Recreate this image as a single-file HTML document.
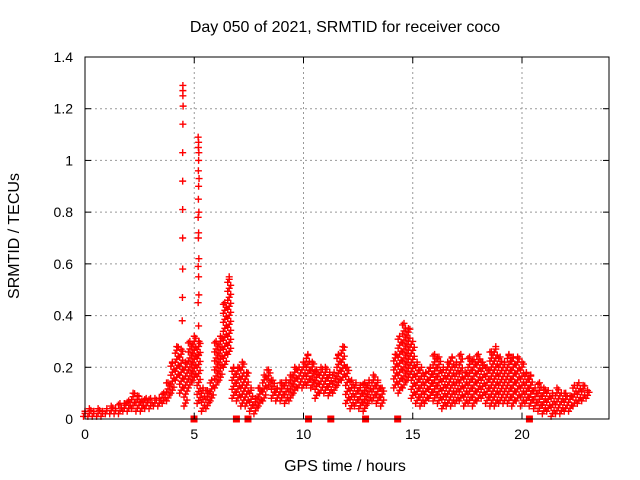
<!DOCTYPE html>
<html><head><meta charset="utf-8"><style>
body{margin:0;background:#fff;}
svg{display:block;font-family:"Liberation Sans",sans-serif;}
</style></head><body>
<svg id="chart" width="640" height="480">
</svg>
<script>
const hours=[0,0.2,0.4,0.6,0.8,1,1.2,1.4,1.6,1.8,2,2.2,2.4,2.6,2.8,3,3.2,3.4,3.6,3.8,4,4.2,4.4,4.6,4.8,5,5.2,5.4,5.6,5.8,6,6.2,6.4,6.6,6.8,7,7.2,7.4,7.6,7.8,8,8.2,8.4,8.6,8.8,9,9.2,9.4,9.6,9.8,10,10.2,10.4,10.6,10.8,11,11.2,11.4,11.6,11.8,12,12.2,12.4,12.6,12.8,13,13.2,13.4,13.6,13.8,14,14.2,14.4,14.6,14.8,15,15.2,15.4,15.6,15.8,16,16.2,16.4,16.6,16.8,17,17.2,17.4,17.6,17.8,18,18.2,18.4,18.6,18.8,19,19.2,19.4,19.6,19.8,20,20.2,20.4,20.6,20.8,21,21.2,21.4,21.6,21.8,22,22.2,22.4,22.6,22.8,23];
const lowVals=[.01,.01,.01,.01,.01,.02,.02,.02,.02,.03,.03,.04,.03,.03,.04,.04,.05,.05,.06,.07,.10,.15,.10,.05,.12,.15,.06,.03,.04,.07,.12,.15,.20,.25,.08,.07,.05,.05,.03,.02,.05,.07,.12,.08,.07,.07,.06,.07,.10,.12,.12,.13,.12,.08,.10,.10,.09,.10,.13,.15,.06,.04,.05,.04,.03,.06,.07,.06,.05,null,null,.12,.10,.12,.15,.08,.06,.05,.06,.08,.07,.06,.04,.05,.05,.06,.07,.05,.06,.05,.07,.08,.06,.05,.05,.06,.06,.06,.05,.07,.05,.06,.05,.04,.03,.02,.03,.01,.02,.02,.03,.03,.05,.06,.07,.08];
const highVals=[.03,.04,.03,.04,.03,.04,.05,.04,.06,.06,.07,.10,.09,.07,.08,.08,.08,.08,.10,.14,.22,.28,.27,.22,.30,.32,.30,.12,.11,.15,.30,.32,.45,.55,.20,.20,.22,.18,.12,.08,.12,.17,.19,.15,.12,.14,.15,.17,.20,.20,.22,.25,.22,.19,.20,.20,.18,.18,.25,.28,.20,.15,.14,.13,.14,.15,.17,.15,.12,null,null,.25,.32,.37,.35,.30,.22,.20,.18,.20,.25,.24,.20,.22,.24,.22,.25,.18,.24,.23,.25,.22,.20,.26,.28,.24,.22,.25,.24,.24,.22,.18,.17,.12,.14,.12,.11,.10,.12,.10,.10,.09,.13,.14,.13,.11];
const spikeHours=[4.48,4.48,4.48,4.49,4.48,4.47,4.47,4.47,4.47,4.47,4.46,4.45,5.18,5.2,5.19,5.21,5.2,5.19,5.22,5.2,5.19,5.21,5.18,5.2,5.19,5.21,5.18,5.2,5.21,5.18,5.2,5.22,5.18];
const spikeVals=[1.29,1.27,1.25,1.21,1.14,1.03,0.92,0.81,0.70,0.58,0.47,0.38,1.09,1.07,1.05,1.03,1.0,0.96,0.93,0.90,0.85,0.80,0.78,0.72,0.70,0.62,0.59,0.55,0.48,0.45,0.36,0.30,0.25];
const gapHours=[4.99,6.93,7.46,10.23,11.25,12.84,14.31,20.34];
const xTicks=[0,5,10,15,20];
const yTicks=[0,0.2,0.4,0.6,0.8,1,1.2,1.4];
const yTickLabels=["0","0.2","0.4","0.6","0.8","1","1.2","1.4"];

const L=85,R=609,T=57,B=419;
const X=h=>L+h*21.85;
const Y=v=>B-v*(B-T)/1.4;
const svg=document.getElementById('chart');
const NS='http://www.w3.org/2000/svg';
function mk(tag,attrs,parent){const e=document.createElementNS(NS,tag);for(const k in attrs)e.setAttribute(k,attrs[k]);(parent||svg).appendChild(e);return e;}

const grid=mk('g',{stroke:'#999','stroke-width':1,'stroke-dasharray':'2,3'});


xTicks.forEach(t=>{if(t>0)mk('line',{x1:X(t),x2:X(t),y1:T,y2:B},grid);});
yTicks.forEach(t=>{if(t>0&&t<1.4)mk('line',{x1:L,x2:R,y1:Y(t),y2:Y(t)},grid);});

const pts=mk('g',{stroke:'#f00','stroke-width':1.4,fill:'none'});


function plus(x,y){mk('path',{d:`M${x-3.5},${y}h7M${x},${y-3.5}v7`},pts);}
hours.forEach((h,i)=>{
  const lo=lowVals[i],hi=highVals[i];
  if(lo==null||hi==null)return;
  const x=X(h),y1=Y(lo),y2=Y(hi);
  let k=0;
  for(let y=y1;y>=y2;y-=3){plus(x+((k%3)-1)*1.5,y);k++;}
  plus(x,y2);
});
spikeHours.forEach((h,i)=>plus(X(h),Y(spikeVals[i])));

const gm=mk('g',{fill:'#f00'});


gapHours.forEach(h=>mk('rect',{x:X(h)-3.5,y:B-3.5,width:7,height:7},gm));

const frame=mk('rect',{x:L,y:T,width:R-L,height:B-T,fill:'none',stroke:'#000','stroke-width':1});


const ticks=mk('g',{stroke:'#000','stroke-width':1});


xTicks.forEach(t=>{mk('line',{x1:X(t),x2:X(t),y1:B,y2:B-6},ticks);mk('line',{x1:X(t),x2:X(t),y1:T,y2:T+6},ticks);});
yTicks.forEach(t=>{mk('line',{x1:L,x2:L+6,y1:Y(t),y2:Y(t)},ticks);mk('line',{x1:R,x2:R-6,y1:Y(t),y2:Y(t)},ticks);});

const xl=mk('g',{'font-size':14,'text-anchor':'middle',fill:'#000'});


xTicks.forEach(t=>{const e=mk('text',{x:X(t),y:B+20},xl);e.textContent=String(t);});
const yl=mk('g',{'font-size':14,'text-anchor':'end',fill:'#000'});


yTicks.forEach((t,i)=>{const e=mk('text',{x:L-12,y:Y(t)+5},yl);e.textContent=yTickLabels[i];});

const title=mk('text',{x:345,y:32,'font-size':16,'text-anchor':'middle'});


title.textContent='Day 050 of 2021, SRMTID for receiver coco';
const xt=mk('text',{x:345,y:471,'font-size':16,'text-anchor':'middle'});


xt.textContent='GPS time / hours';
const yt=mk('text',{x:0,y:0,'font-size':16,'text-anchor':'middle',transform:'translate(19,236) rotate(-90)'});


yt.textContent='SRMTID / TECUs';
</script>
</body></html>
